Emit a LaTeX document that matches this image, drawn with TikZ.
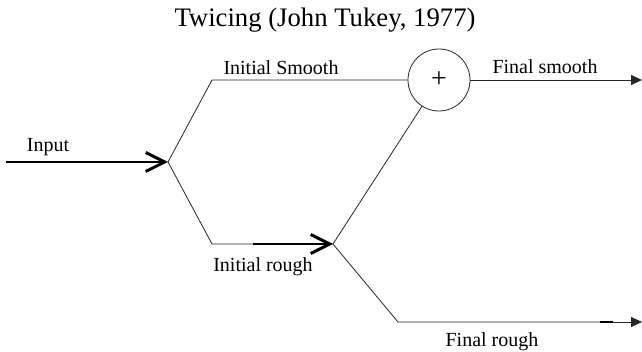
\documentclass[tikz,border=0pt]{standalone}
\usepackage{fontspec}
\setmainfont{Liberation Serif}
\usetikzlibrary{arrows.meta}
\begin{document}
\begin{tikzpicture}[x=1pt,y=-1pt,
  wire/.style={draw=black!85, line width=0.8pt},
  thickwire/.style={draw=black, line width=2pt},
  openhead/.style={-{Straight Barb[length=19pt,width=19pt,line width=3pt]}},
  fillhead/.style={-{Triangle[length=11pt,width=10pt]}},
  lbl/.style={anchor=base, font=\fontsize{20}{24}\selectfont, inner sep=0pt},
  ]
\useasboundingbox (0,0) rectangle (642,352);
\node[anchor=base, font=\fontsize{26.7}{32}\selectfont, inner sep=0pt] (title) at (325,27) {Twicing (John Tukey, 1977)};
\coordinate (in) at (6,162);
\coordinate (j1) at (168,162);
\coordinate (c1) at (212,80);
\coordinate (c2) at (212,244);
\coordinate (t2) at (253,244);
\coordinate (j2) at (333,244);
\coordinate (c3) at (398,322);
\coordinate (out1) at (642,80);
\coordinate (out2) at (642,322);
\coordinate (m1) at (600,322);
\coordinate (m2) at (613,322);
\node[circle, draw=black!85, line width=0.8pt, minimum size=62pt, inner sep=0pt,
      font=\fontsize{28}{30}\selectfont] (plus) at (439,80) {+};
% connectors
\draw[thickwire, openhead] (in) -- (j1);
\draw[wire] (j1) -- (c1) -- (plus.west);
\draw[wire] (j1) -- (c2) -- (t2);
\draw[thickwire, openhead] (t2) -- (j2);
\draw[wire] (j2) -- (plus);
\draw[wire, fillhead] (plus.east) -- (out1);
\draw[wire] (j2) -- (c3) -- (m1);
\draw[thickwire] (m1) -- (m2);
\draw[wire, fillhead] (m2) -- (out2);
% labels
\node[lbl] (linput) at (48,152) {Input};
\node[lbl] (lsmooth) at (281,75) {Initial Smooth};
\node[lbl] (lrough) at (263,272) {Initial rough};
\node[lbl] (lfsmooth) at (545,74) {Final smooth};
\node[lbl] (lfrough) at (492,346) {Final rough};
\end{tikzpicture}
\end{document}
